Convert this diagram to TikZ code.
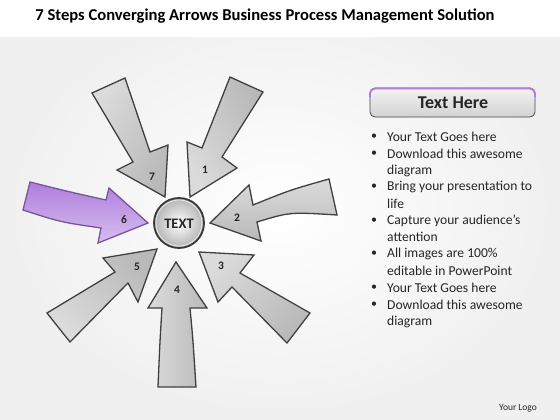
\documentclass[tikz,border=0pt]{standalone}
\usepackage{fontspec}
\setmainfont{Carlito}
\definecolor{lavL}{RGB}{215,190,240}
\definecolor{lavD}{RGB}{175,125,220}
\definecolor{lavE}{RGB}{120,85,150}
\begin{document}
\begin{tikzpicture}[x=1pt,y=-1pt,
  grayarrow/.style={draw=gray!50!black,line width=1.3pt,line join=miter,top color=gray!28,bottom color=gray!55},
  purplearrow/.style={draw=lavE,line width=1.3pt,line join=miter,top color=lavD,bottom color=lavL},
  numlbl/.style={font=\fontsize{11.5}{13}\selectfont\bfseries,text=black!85},
  bullet/.style={anchor=west,font=\fontsize{13.6}{15}\selectfont,text=black!85,inner sep=0pt},
  dot/.style={anchor=center,font=\fontsize{12}{14}\selectfont,text=black!85,inner sep=0pt}]
\useasboundingbox (0,0) rectangle (560,420);
\shade[inner color=white,outer color=gray!12] (0,0) rectangle (560,420);
\fill[white] (0,0) rectangle (560,37);
% title
\node[font=\fontsize{16.6}{19}\selectfont\bfseries] (title) at (265,16) {7 Steps Converging Arrows Business Process Management Solution};
% arrows
\path[grayarrow,shading angle=120] (190,197) -- (187,142) -- (202,148) -- (230,77) -- (263,92) -- (222,157) -- (237,168) -- cycle;
\path[grayarrow,shading angle=60] (165,197) -- (168,145) -- (150,152) -- (125,78) -- (92,93) -- (133,162) -- (117,170) -- cycle;
\path[grayarrow] (210,223) -- (249,185) -- (253,205) .. controls (290,190) .. (329,179) -- (337,215) .. controls (290,212) .. (257,222) -- (261,241) -- cycle;
\path[grayarrow,shading angle=45] (199,252) -- (254,255) -- (240,273) -- (310,313) -- (287,343) -- (232,287) -- (218,302) -- cycle;
\path[grayarrow,shading angle=90] (176,262) -- (207,308) -- (190,308) .. controls (193,340) .. (196,387) -- (158,387) .. controls (160,340) .. (162,308) -- (148,308) -- cycle;
\path[grayarrow,shading angle=135] (157,249) -- (138,302) -- (128,283) -- (70,342) -- (47,313) -- (115,272) -- (103,258) -- cycle;
\path[purplearrow] (148,223) -- (98,243) -- (101,228) .. controls (60,222) .. (23,210) -- (30,182) .. controls (70,192) .. (106,200) -- (109,188) -- cycle;
% numbers
\node[numlbl] (n1) at (205,170) {1};
\node[numlbl] (n2) at (237,218) {2};
\node[numlbl] (n3) at (221,266) {3};
\node[numlbl] (n4) at (177,290) {4};
\node[numlbl] (n5) at (137,267) {5};
\node[numlbl] (n6) at (124,220) {6};
\node[numlbl] (n7) at (152,177) {7};
% centre sphere
\shade[inner color=white,outer color=gray!60] (179,223) circle (25);
\draw[gray!45!black,line width=1.8pt] (179,223) circle (25);
\draw[white!80!gray,line width=0.8pt] (179,223) circle (23);
\node[font=\fontsize{14.5}{16}\selectfont\bfseries,text=black!85] (center) at (179,224) {TEXT};
% text here button
\shade[rounded corners=5pt,top color=gray!10,bottom color=gray!35] (370,88) rectangle (535,117);
\draw[rounded corners=5pt,gray!55!black,line width=0.8pt] (370,88) rectangle (535,117);
\draw[lavD,line width=1.8pt,rounded corners=5pt] (370,97) -- (370,88.5) -- (535,88.5) -- (535,97);
\node[font=\fontsize{18}{20}\selectfont\bfseries,text=black!85] (head) at (453,103) {Text Here};
% bullets
\foreach \y in {137,154,187,221,254,288,305} {\node[dot] at (374,\y) {•};}
\node[bullet] (b1) at (387,137) {Your Text Goes here};
\node[bullet] (b2) at (387,154) {Download this awesome};
\node[bullet] (b2b) at (387,171) {diagram};
\node[bullet] (b3) at (387,187) {Bring your presentation to};
\node[bullet] (b3b) at (387,204) {life};
\node[bullet] (b4) at (387,221) {Capture your audience’s};
\node[bullet] (b4b) at (387,237) {attention};
\node[bullet] (b5) at (387,254) {All images are 100\%};
\node[bullet] (b5b) at (387,271) {editable in PowerPoint};
\node[bullet] (b6) at (387,288) {Your Text Goes here};
\node[bullet] (b7) at (387,305) {Download this awesome};
\node[bullet] (b7b) at (387,322) {diagram};
\node[font=\fontsize{9.5}{11}\selectfont,text=black!85] (logo) at (518,408) {Your Logo};
\end{tikzpicture}
\end{document}
